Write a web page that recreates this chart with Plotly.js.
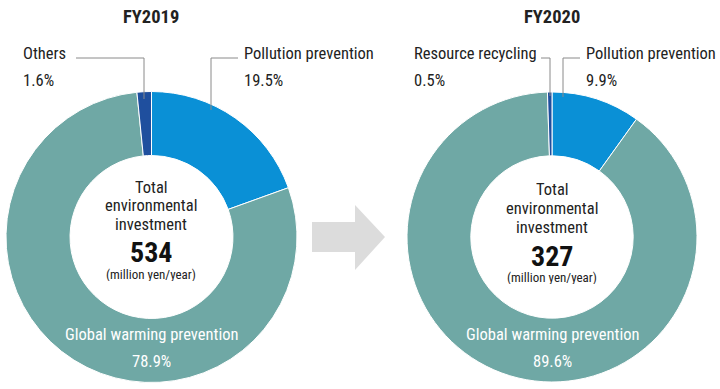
<!DOCTYPE html>
<html>
<head>
<meta charset="utf-8">
<script src="https://cdn.plot.ly/plotly-3.0.1.min.js"></script>
<style>html,body{margin:0;padding:0;background:#fff}#chart{width:720px;height:389px}</style>
</head>
<body>
<div id="chart"></div>
<script>
// ---- data ----
var years = ["FY2019", "FY2020"];
var labels2019 = ["Pollution prevention", "Global warming prevention", "Others"];
var values2019 = [19.5, 78.9, 1.6];
var labels2020 = ["Pollution prevention", "Global warming prevention", "Resource recycling"];
var values2020 = [9.9, 89.6, 0.5];
var totals = [534, 327];
var unitText = "(million yen/year)";
var centerLines = ["Total", "environmental", "investment"];

// ---- helpers ----
var W = 720, H = 389;
function px(x){ return x / W; }
function py(y){ return 1 - y / H; }
var FONT = "Liberation Sans Narrow, Roboto Condensed, Roboto, Arial, sans-serif";
var colors = ["#0a90d6", "#6fa8a5", "#1f4f9e"];

var pies = [
  {cx: 151.5, cy: 237, r: 145.5, labels: labels2019, values: values2019},
  {cx: 552, cy: 237, r: 145, labels: labels2020, values: values2020}
];

var data = pies.map(function(p){
  return {
    type: "pie",
    labels: p.labels,
    values: p.values,
    sort: false,
    direction: "clockwise",
    rotation: 0,
    hole: 0.56,
    textinfo: "none",
    hoverinfo: "label+percent",
    marker: {colors: colors, line: {color: "#ffffff", width: 1}},
    domain: {x: [px(p.cx - p.r), px(p.cx + p.r)], y: [py(p.cy + p.r), py(p.cy - p.r)]},
    showlegend: false
  };
});

var ann = [];
function addText(text, x, y, opts){
  opts = opts || {};
  var size = opts.size || 16.5;
  ann.push({
    text: text, x: px(x), y: py(y), xref: "paper", yref: "paper",
    xanchor: opts.xanchor || "center", yanchor: "middle", showarrow: false,
    height: Math.round(size), borderpad: 0,
    font: {family: FONT, size: size, color: opts.color || "#222222"}
  });
}

// titles
addText("<b>" + years[0] + "</b>", 151, 17, {size: 18.5});
addText("<b>" + years[1] + "</b>", 552, 17, {size: 18.5});

// outer labels
addText(labels2019[2], 22, 53, {xanchor: "left"});
addText(values2019[2].toFixed(1) + "%", 22, 80, {xanchor: "left"});
addText(labels2019[0], 243, 53, {xanchor: "left"});
addText(values2019[0].toFixed(1) + "%", 243, 80, {xanchor: "left"});
addText(labels2020[2], 413, 53, {xanchor: "left"});
addText(values2020[2].toFixed(1) + "%", 413, 80, {xanchor: "left"});
addText(labels2020[0], 585, 53, {xanchor: "left"});
addText(values2020[0].toFixed(1) + "%", 585, 80, {xanchor: "left"});

// global warming labels (white, inside ring)
addText(labels2019[1], 151, 334, {color: "#ffffff"});
addText(values2019[1].toFixed(1) + "%", 151, 361, {color: "#ffffff"});
addText(labels2020[1], 552, 334, {color: "#ffffff"});
addText(values2020[1].toFixed(1) + "%", 552, 361, {color: "#ffffff"});

// centre texts
var cys = [[187, 205.5, 224, 252, 274], [190, 208.5, 227, 256, 277]];
[151, 552].forEach(function(cx, i){
  var c = cys[i];
  addText(centerLines[0], cx, c[0], {size: 16.5});
  addText(centerLines[1], cx, c[1], {size: 16.5});
  addText(centerLines[2], cx, c[2], {size: 16.5});
  addText("<b>" + totals[i] + "</b>", cx, c[3], {size: 28, color: "#111111"});
  addText(unitText, cx, c[4], {size: 13});
});

// leader lines
var shapes = [];
function line(x0, y0, x1, y1){
  shapes.push({type: "line", xref: "paper", yref: "paper",
    x0: px(x0), y0: py(y0), x1: px(x1), y1: py(y1),
    line: {color: "#8a8a8a", width: 1}});
}
line(76, 58, 144, 58); line(144, 58, 144, 99);
line(211, 58, 238, 58); line(211, 58, 211, 110);
line(541, 58, 550, 58); line(550, 58, 550, 96);
line(563, 58, 580, 58); line(563, 58, 563, 97);

// arrow
var arrowPts = [[312,222],[355,222],[355,205],[385,237],[355,270],[355,252],[312,252]];
var d = "M" + arrowPts.map(function(p){ return px(p[0]) + "," + py(p[1]); }).join(" L") + " Z";
shapes.push({type: "path", xref: "paper", yref: "paper", path: d,
  fillcolor: "#dcdcdc", line: {width: 0}, layer: "below"});

var layout = {
  width: W, height: H,
  margin: {l: 0, r: 0, t: 0, b: 0},
  paper_bgcolor: "#ffffff",
  plot_bgcolor: "#ffffff",
  annotations: ann,
  shapes: shapes,
  showlegend: false
};

Plotly.newPlot("chart", data, layout, {displayModeBar: false, staticPlot: true});
</script>
</body>
</html>
